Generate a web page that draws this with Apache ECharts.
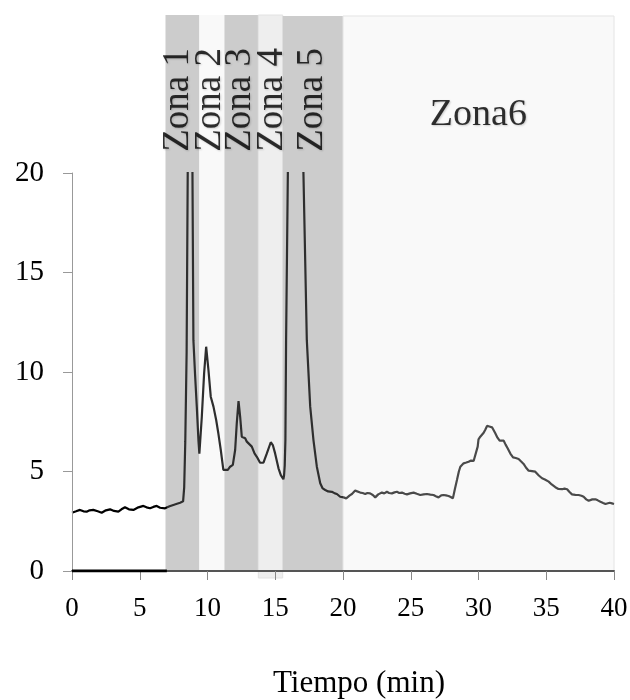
<!DOCTYPE html>
<html><head><meta charset="utf-8">
<script src="https://cdn.jsdelivr.net/npm/echarts@6/dist/echarts.min.js"></script>
<style>html,body{margin:0;padding:0;background:#fff}#c{width:630px;height:700px}</style>
</head><body><div id="c"></div>
<script>
// ---- data ----
const timeMin = [0.0,0.3,0.59,0.85,1.08,1.3,1.57,1.9,2.19,2.5,2.81,3.1,3.42,3.65,3.91,4.2,4.53,4.9,5.27,5.5,5.76,6.0,6.25,6.5,6.87,7.2,7.48,7.75,7.98,8.2,8.28,8.36,8.46,8.54,8.7,8.89,8.96,9.08,9.21,9.33,9.4,9.58,9.75,9.9,10.07,10.24,10.44,10.64,10.8,10.98,11.17,11.3,11.5,11.67,11.87,12.04,12.16,12.29,12.41,12.53,12.78,12.9,13.02,13.27,13.47,13.64,13.88,14.13,14.38,14.67,14.82,14.99,15.24,15.41,15.6,15.65,15.7,15.75,15.8,15.93,16.5,17.08,17.33,17.58,17.82,18.07,18.32,18.5,18.69,18.9,19.18,19.4,19.55,19.79,20.04,20.16,20.24,20.5,20.66,20.9,21.03,21.27,21.45,21.64,21.8,22.0,22.2,22.38,22.6,22.87,23.05,23.24,23.4,23.61,23.8,23.98,24.15,24.35,24.55,24.72,24.95,25.21,25.45,25.7,25.95,26.2,26.45,26.68,26.85,27.05,27.25,27.42,27.6,27.79,27.95,28.11,28.25,28.41,28.55,28.66,28.9,29.1,29.27,29.45,29.64,29.76,29.94,30.0,30.13,30.38,30.5,30.63,30.8,31.0,31.24,31.4,31.56,31.7,31.86,32.0,32.15,32.35,32.55,32.75,32.96,33.15,33.33,33.5,33.7,33.95,34.19,34.45,34.69,34.9,35.18,35.4,35.67,35.9,36.17,36.35,36.54,36.7,36.9,37.15,37.39,37.6,37.76,37.95,38.13,38.4,38.63,38.8,39.0,39.2,39.37,39.5,39.68,39.85,40.0];
const signal = [2.93,3.0,3.07,3.0,2.98,3.05,3.07,3.0,2.93,3.05,3.1,3.02,2.98,3.1,3.2,3.1,3.07,3.2,3.27,3.2,3.15,3.22,3.27,3.18,3.15,3.25,3.32,3.38,3.43,3.5,4.2,6.5,11,20,28,20,11.6,9.9,8.26,6.58,5.9,7.75,9.93,11.27,10.1,8.76,8.26,7.59,6.92,6.08,5.08,4.99,5.08,5.24,5.33,6.08,7.42,8.54,7.75,6.75,6.67,6.5,6.5,6.25,5.91,5.74,5.44,5.44,5.91,6.47,6.33,5.91,5.16,4.82,4.61,4.8,5.3,6.6,11.6,20,38,20,11.6,8.26,6.58,5.24,4.41,4.15,4.07,4.0,3.98,3.9,3.87,3.73,3.7,3.62,3.65,3.8,3.87,4.04,3.98,3.94,3.92,3.87,3.92,3.9,3.82,3.7,3.85,3.94,3.9,3.98,3.92,3.9,3.95,3.98,3.92,3.94,3.88,3.85,3.9,3.94,3.88,3.82,3.85,3.87,3.84,3.82,3.76,3.7,3.8,3.82,3.8,3.77,3.72,3.65,4.1,4.57,5.0,5.24,5.41,5.45,5.49,5.55,5.53,5.49,6.25,6.62,6.75,6.95,7.1,7.29,7.26,7.22,6.92,6.7,6.55,6.6,6.55,6.35,6.17,5.9,5.71,5.68,5.63,5.5,5.38,5.2,5.04,5.02,4.99,4.8,4.66,4.6,4.49,4.35,4.21,4.12,4.11,4.14,4.11,3.98,3.85,3.83,3.82,3.78,3.73,3.6,3.53,3.6,3.6,3.55,3.48,3.42,3.37,3.42,3.43,3.4,3.37];
const zeroTime = [0, 7];
const zeroSignal = [0, 0];

const zoneNames  = ['Zona 1','Zona 2','Zona 3','Zona 4','Zona 5','Zona6'];
const zoneStart  = [6.9, 9.4, 11.25, 13.75, 15.55, 20];
const zoneEnd    = [9.4, 11.25, 13.75, 15.55, 20, 40];
const zoneBottom = [0, 0, 0, -0.35, 0, 0];
const zoneTop    = [27.95, 27.95, 27.95, 27.95, 27.9, 27.9];
const labelX     = [7.83, 10.19, 12.41, 14.77, 17.73, 29.99];
const labelY     = [23.68, 23.68, 23.68, 23.68, 23.68, 22.93];
const labelRotate = [90, 90, 90, 90, 90, 0];

const xTicks = { min: 0, max: 40, interval: 5 };
const yTicks = { min: 0, max: 20, interval: 5 };
const xTitle = 'Tiempo (min)';

// ---- styles ----
const FONT = "'Liberation Serif','Times New Roman',serif";
const zoneFill = ['#cccccc','#f9f9f9','#cccccc','#eeeeee','#cccccc','#f9f9f9'];
const zoneBorder = [null, null, null, '#e2e2e2', null, '#e4e4e4'];

const markData = zoneNames.map((n, i) => [
  { xAxis: zoneStart[i], yAxis: zoneBottom[i],
    itemStyle: { color: zoneFill[i], borderColor: zoneBorder[i] || zoneFill[i], borderWidth: zoneBorder[i] ? 1 : 0 } },
  { xAxis: zoneEnd[i], yAxis: zoneTop[i] }
]);

const chart = echarts.init(document.getElementById('c'), null, { renderer: 'canvas' });
chart.setOption({
  animation: false,
  backgroundColor: '#ffffff',
  grid: [
    { left: 72, right: 16, top: 15, bottom: 122, containLabel: false, outerBoundsMode: 'none' },
    { left: 72, right: 16, top: 173, bottom: 129, containLabel: false, outerBoundsMode: 'none' }
  ],
  visualMap: {
    show: false, type: 'piecewise', seriesIndex: 2, dimension: 0,
    pieces: [
      { lt: 7, color: '#000000' },
      { gte: 7, lt: 20, color: '#2e2e2e' },
      { gte: 20, color: '#4a4a4a' }
    ]
  },
  xAxis: [
    { gridIndex: 0, type: 'value', min: 0, max: 40, show: false },
    { gridIndex: 1, type: 'value', min: xTicks.min, max: xTicks.max, interval: xTicks.interval, z: 5,
      axisLine: { show: true, lineStyle: { color: '#555', width: 2 } },
      axisTick: { show: true, length: 9, lineStyle: { color: '#888', width: 1 } },
      splitLine: { show: false },
      axisLabel: { fontFamily: FONT, fontSize: 27, color: '#000', margin: 24 },
      name: xTitle, nameLocation: 'middle', nameGap: 97,
      nameTextStyle: { fontFamily: FONT, fontSize: 31, color: '#000', padding: [0, 0, 0, 32] }
    }
  ],
  yAxis: [
    { gridIndex: 0, type: 'value', min: -0.35, max: 27.95, show: false },
    { gridIndex: 1, type: 'value', min: yTicks.min, max: yTicks.max, interval: yTicks.interval, z: 5,
      axisLine: { show: true, lineStyle: { color: '#999', width: 1 } },
      axisTick: { show: true, length: 9, lineStyle: { color: '#999', width: 1 } },
      splitLine: { show: false },
      axisLabel: { fontFamily: FONT, fontSize: 29, color: '#000', margin: 28 }
    }
  ],
  series: [
    { type: 'line', xAxisIndex: 0, yAxisIndex: 0, data: [], z: 1, silent: true,
      markArea: { silent: true, data: markData } },
    { type: 'scatter', xAxisIndex: 0, yAxisIndex: 0, z: 8, silent: true,
      symbolSize: 1, itemStyle: { color: 'rgba(0,0,0,0)' },
      data: zoneNames.map((n, i) => ({
        name: n, value: [labelX[i], labelY[i]],
        label: { rotate: labelRotate[i], fontSize: labelRotate[i] ? 37 : 38 }
      })),
      label: { show: true, position: 'inside', align: 'center', verticalAlign: 'middle',
        formatter: '{b}', fontFamily: FONT, fontSize: 37, color: '#000',
        textShadowColor: 'rgba(0,0,0,0.22)', textShadowBlur: 2, textShadowOffsetX: 1, textShadowOffsetY: 1 }
    },
    { type: 'line', xAxisIndex: 1, yAxisIndex: 1, z: 3, symbol: 'none', clip: true,
      data: timeMin.map((t, i) => [t, signal[i]]),
      lineStyle: { width: 2.2 } },
    { type: 'line', xAxisIndex: 1, yAxisIndex: 1, z: 6, symbol: 'none',
      data: zeroTime.map((t, i) => [t, zeroSignal[i]]),
      lineStyle: { width: 3, color: '#000' } }
  ]
});
</script></body></html>
